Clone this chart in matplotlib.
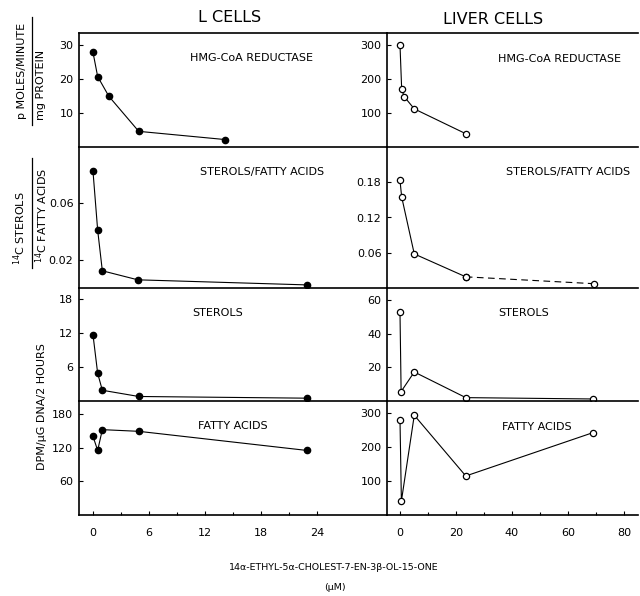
import matplotlib
matplotlib.use("Agg")
import matplotlib.pyplot as plt
from matplotlib.lines import Line2D

plt.rcParams['font.family'] = ['DejaVu Sans']

# ---- data ----
# L cells (filled circles), concentration in uM
l_hmg_x = [0, 0.5, 1.7, 4.9, 14.1]
l_hmg_y = [27.8, 20.7, 14.9, 4.6, 2.2]
l_ratio_x = [0, 0.5, 1.0, 4.8, 22.9]
l_ratio_y = [0.0827, 0.041, 0.0122, 0.0058, 0.0022]
l_ster_x = [0, 0.5, 1.0, 4.9, 22.9]
l_ster_y = [11.7, 4.9, 1.9, 0.8, 0.5]
l_fa_x = [0, 0.5, 1.0, 4.9, 22.9]
l_fa_y = [140, 115, 152, 149, 115]

# Liver cells (open circles)
v_hmg_x = [0, 0.6, 1.5, 5.1, 23.5]
v_hmg_y = [300, 170, 148, 112, 39]
v_ratio_x = [0, 0.6, 5.1, 23.5, 69.4]
v_ratio_y = [0.183, 0.155, 0.058, 0.019, 0.0073]
v_ster_x = [0, 0.4, 5.1, 23.5, 69.0]
v_ster_y = [52.5, 5.6, 17.2, 2.0, 1.2]
v_fa_x = [0, 0.5, 5.1, 23.5, 69.0]
v_fa_y = [281, 41, 294, 115, 243]

l_xticks = [0, 6, 12, 18, 24]
v_xticks = [0, 20, 40, 60, 80]

W, H = 640, 596
fig = plt.figure(figsize=(W / 100, H / 100), dpi=100)

def fx(px):
    return px / W

def fy(py):
    return 1 - py / H

rows = [(33, 147), (147, 288), (288, 401), (401, 515)]
colL = (79, 387)
colR = (387, 638)

def make_ax(col, row):
    x0, x1 = col
    y0, y1 = row
    return fig.add_axes([fx(x0), fy(y1), fx(x1) - fx(x0), (y1 - y0) / H])

axes = []
for r in rows:
    axes.append((make_ax(colL, r), make_ax(colR, r)))

ylims_L = [(0, 33.5), (0, 0.1), (0, 20), (0, 203)]
ylims_R = [(0, 335), (0, 0.24), (0, 67), (0, 336)]
yticks_L = [[10, 20, 30], [0.02, 0.06], [6, 12, 18], [60, 120, 180]]
yticks_R = [[100, 200, 300], [0.06, 0.12, 0.18], [20, 40, 60], [100, 200, 300]]
ylabs_L = [['10', '20', '30'], ['0.02', '0.06'], ['6', '12', '18'], ['60', '120', '180']]
ylabs_R = [['100', '200', '300'], ['0.06', '0.12', '0.18'], ['20', '40', '60'], ['100', '200', '300']]

for i, (aL, aR) in enumerate(axes):
    for a, xl, yl, yt, ytl in [(aL, (-1.5, 31.5), ylims_L[i], yticks_L[i], ylabs_L[i]),
                               (aR, (-4.64, 85.0), ylims_R[i], yticks_R[i], ylabs_R[i])]:
        a.set_xlim(*xl)
        a.set_ylim(*yl)
        a.set_yticks(yt)
        a.set_yticklabels(ytl)
        a.patch.set_alpha(0)
        a.spines['right'].set_visible(False)
        a.spines['top'].set_visible(i == 0)
        for s in a.spines.values():
            s.set_linewidth(1.2)
        a.tick_params(axis='y', direction='in', length=3, width=0.8, labelsize=8, pad=4)
        if i < 3:
            a.set_xticks([])
        else:
            a.tick_params(axis='x', direction='in', length=3, width=0.8, labelsize=8, pad=9)
            a.tick_params(axis='x', which='minor', direction='in', length=2, width=0.8)
    if i == 3:
        aL.set_xticks(l_xticks)
        aL.set_xticks([3, 9, 15, 21], minor=True)
        aR.set_xticks(v_xticks)
        aR.set_xticks([10, 30, 50, 70], minor=True)

lkw = dict(color='black', lw=0.8, marker='o', ms=4.5, mfc='black', mec='black')
vkw = dict(color='black', lw=0.8, marker='o', ms=4.5, mfc='white', mec='black', mew=0.9)

axes[0][0].plot(l_hmg_x, l_hmg_y, **lkw)
axes[1][0].plot(l_ratio_x, l_ratio_y, **lkw)
axes[2][0].plot(l_ster_x, l_ster_y, **lkw)
axes[3][0].plot(l_fa_x, l_fa_y, **lkw)

axes[0][1].plot(v_hmg_x, v_hmg_y, **vkw)
axes[1][1].plot(v_ratio_x[:4], v_ratio_y[:4], **vkw)
axes[1][1].plot(v_ratio_x[3:], v_ratio_y[3:], linestyle=(0, (6, 4)), **vkw)
axes[2][1].plot(v_ster_x, v_ster_y, **vkw)
axes[3][1].plot(v_fa_x, v_fa_y, **vkw)

# panel annotations (figure pixel positions)
tkw = dict(fontsize=8, ha='center', va='center')
fig.text(fx(252), fy(58), 'HMG-CoA REDUCTASE', **tkw)
fig.text(fx(560), fy(59), 'HMG-CoA REDUCTASE', **tkw)
fig.text(fx(262), fy(172), 'STEROLS/FATTY ACIDS', **tkw)
fig.text(fx(568), fy(172), 'STEROLS/FATTY ACIDS', **tkw)
fig.text(fx(218), fy(313), 'STEROLS', **tkw)
fig.text(fx(524), fy(313), 'STEROLS', **tkw)
fig.text(fx(233), fy(426), 'FATTY ACIDS', **tkw)
fig.text(fx(537), fy(427), 'FATTY ACIDS', **tkw)

# column titles
fig.text(fx(230), fy(18), 'L CELLS', fontsize=11.5, ha='center', va='center')
fig.text(fx(493), fy(19), 'LIVER CELLS', fontsize=11.5, ha='center', va='center')

# y-axis labels
ykw = dict(fontsize=8, ha='center', va='center', rotation=90)
fig.text(fx(22), fy(71), 'p MOLES/MINUTE', **ykw)
fig.text(fx(41), fy(85), 'mg PROTEIN', **ykw)
fig.add_artist(Line2D([fx(31.5), fx(31.5)], [fy(17), fy(125)], color='black', lw=0.9))

fig.text(fx(20), fy(228), r'$^{14}$C STEROLS', **ykw)
fig.text(fx(42), fy(215), r'$^{14}$C FATTY ACIDS', **ykw)
fig.add_artist(Line2D([fx(32), fx(32)], [fy(158), fy(268)], color='black', lw=0.9))

fig.text(fx(42), fy(407), 'DPM/\u03bcG DNA/2 HOURS', **ykw)

# x-axis label
fig.text(fx(334), fy(567), '14\u03b1-ETHYL-5\u03b1-CHOLEST-7-EN-3\u03b2-OL-15-ONE',
         fontsize=6.8, ha='center', va='center')
fig.text(fx(335), fy(588), '(\u03bcM)', fontsize=6.8, ha='center', va='center')

fig.savefig('out.png', dpi=100)
